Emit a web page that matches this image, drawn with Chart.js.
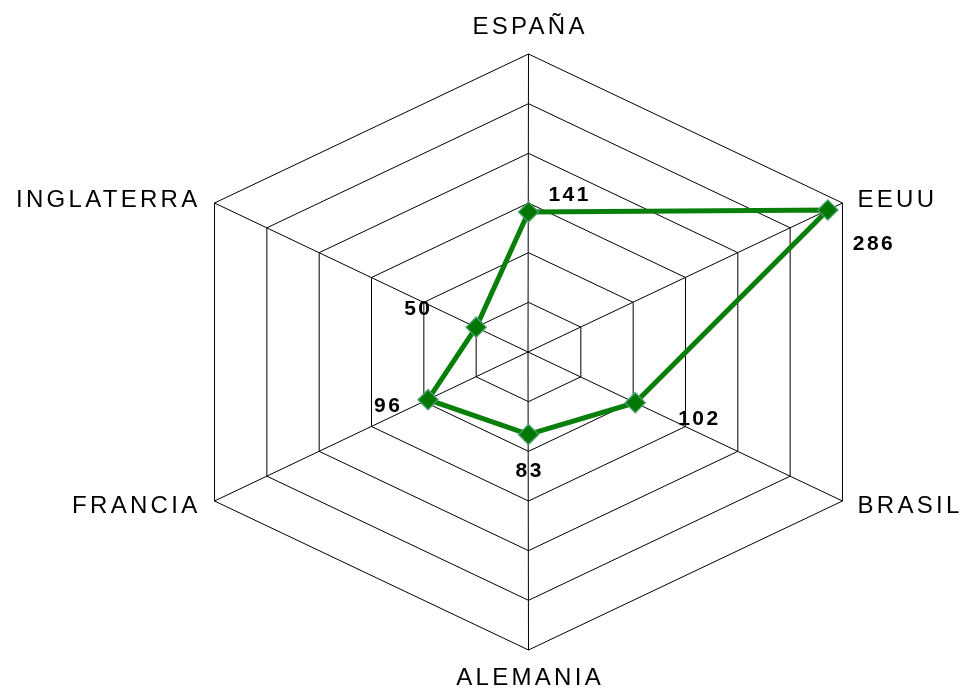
<!DOCTYPE html>
<html>
<head>
<meta charset="utf-8">
<title>Radar</title>
<script src="https://cdn.jsdelivr.net/npm/chart.js@4.4.1/dist/chart.umd.min.js"></script>
<style>
  html, body { margin: 0; padding: 0; background: #fff; }
  #wrap { width: 963px; height: 692px; }
</style>
</head>
<body>
<div id="wrap"><canvas id="radar" width="963" height="692"></canvas></div>
<script>
const countries = ['ESPAÑA', 'EEUU', 'BRASIL', 'ALEMANIA', 'FRANCIA', 'INGLATERRA'];
const values = [141, 286, 102, 83, 96, 50];
const scaleMax = 300;
const scaleStep = 50;

// the original hexagon is wider than it is tall, chart.js radar is round
const X_STRETCH = 1.2166;

class StretchedRadialScale extends Chart.RadialLinearScale {
  static id = 'stretchedRadial';
  // keep centre and radius from the chart area (names are drawn by the plugin)
  setCenterPoint() {}
  getPointPosition(index, distance, additionalAngle = 0) {
    const p = super.getPointPosition(index, distance, additionalAngle);
    // +0.5 keeps the vertical grid lines on whole pixels
    return { x: this.xCenter + 0.5 + (p.x - this.xCenter) * X_STRETCH, y: p.y, angle: p.angle };
  }
}
Chart.register(StretchedRadialScale);

const textPlugin = {
  id: 'radarText',
  afterDraw(chart, args, opts) {
    const ctx = chart.ctx;
    const scale = chart.scales.r;
    const r = scale.drawingArea;
    ctx.save();
    ctx.fillStyle = '#000';
    ctx.textBaseline = 'alphabetic';

    // country names round the outer ring
    ctx.font = '24px "Liberation Sans", Arial, sans-serif';
    ctx.letterSpacing = '3.3px';
    chart.data.labels.forEach((label, i) => {
      const v = scale.getPointPosition(i, r);
      const dx = v.x - scale.xCenter - 0.5;
      const dy = v.y - scale.yCenter;
      let x = v.x, y = v.y;
      if (Math.abs(dx) < 1) {
        ctx.textAlign = 'center';
        x += 1.6;
        y += dy < 0 ? -20 : 35;
      } else {
        ctx.textAlign = dx > 0 ? 'left' : 'right';
        x += dx > 0 ? 15 : -14;
        y += dy < 0 ? 4 : 12;
      }
      ctx.fillText(label, x, y);
    });

    // value labels next to each point
    ctx.font = 'bold 21px "Liberation Sans", Arial, sans-serif';
    ctx.letterSpacing = '2.5px';
    ctx.textAlign = 'center';
    ctx.textBaseline = 'middle';
    const meta = chart.getDatasetMeta(0);
    meta.data.forEach((pt, i) => {
      const [ox, oy] = opts.valueOffsets[i];
      ctx.fillText(String(chart.data.datasets[0].data[i]), pt.x + ox + 1.2, pt.y + oy);
    });
    ctx.restore();
  }
};

new Chart(document.getElementById('radar'), {
  type: 'radar',
  data: {
    labels: countries,
    datasets: [{
      data: values,
      borderColor: '#087f08',
      borderWidth: 5,
      fill: false,
      pointStyle: 'rectRot',
      pointRadius: 10,
      pointBackgroundColor: '#037603',
      pointBorderColor: 'rgba(70,160,110,0.9)',
      pointBorderWidth: 1.5,
    }]
  },
  options: {
    responsive: false,
    devicePixelRatio: 1,
    animation: false,
    layout: { padding: { left: 93, right: 0, top: 54, bottom: 41 } },
    plugins: {
      legend: { display: false },
      tooltip: { enabled: false },
      radarText: {
        valueOffsets: [[40, -17], [45, 34], [63, 17], [0, 37], [-41, 7], [-59, -18]]
      }
    },
    scales: {
      r: {
        type: 'stretchedRadial',
        min: 0,
        max: scaleMax,
        ticks: { display: false, stepSize: scaleStep },
        grid: { color: '#000', lineWidth: 1 },
        angleLines: { color: '#000', lineWidth: 1 },
        pointLabels: { display: false }
      }
    }
  },
  plugins: [textPlugin]
});
</script>
</body>
</html>
